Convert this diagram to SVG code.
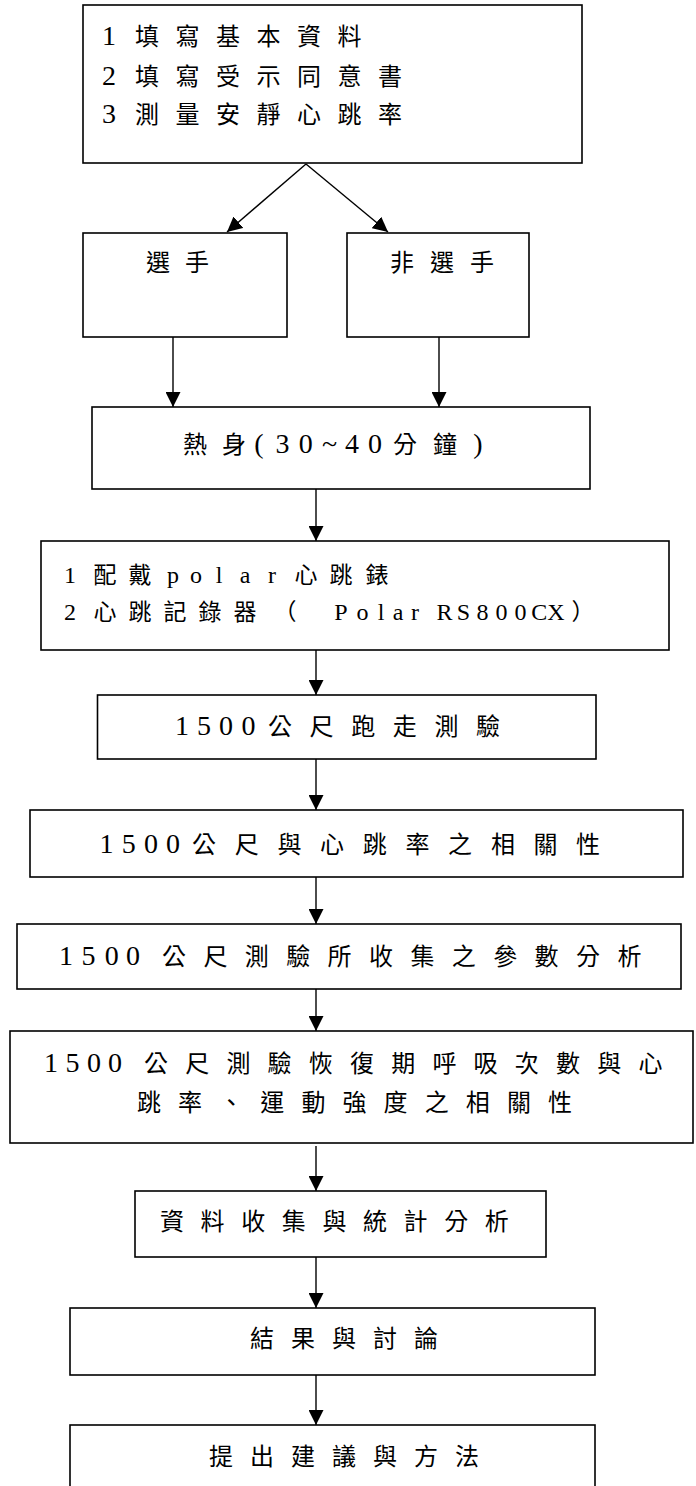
<svg xmlns="http://www.w3.org/2000/svg" width="696" height="1486" viewBox="0 0 696 1486">
<style>
.box{fill:#fff;stroke:#000;stroke-width:1.6}
.cn{stroke:#000;stroke-width:1.4;fill:none}
text{font-family:'Liberation Serif','Noto Sans CJK TC',serif;fill:#000}
.c{font-family:'Noto Sans CJK TC','Noto Sans CJK SC',sans-serif;font-size:24px;text-anchor:middle}
.c2{font-size:23px}
.l{font-family:'Liberation Serif',serif;font-size:28px;text-anchor:middle}
.s{font-size:24px}
</style>
<defs>
<marker id="ah" markerUnits="userSpaceOnUse" markerWidth="15" markerHeight="15" refX="15" refY="7.5" orient="auto">
<path d="M0,0 L15,7.5 L0,15 Z" fill="#000"/>
</marker>
</defs>
<rect width="696" height="1486" fill="#fff"/>

<g id="n1">
<rect class="box" x="83" y="5" width="499" height="158"/>
<text y="45"><tspan class="l" x="109 128">1 </tspan><tspan class="c" x="147 187.5 228 268.5 309 349.5">填寫基本資料</tspan></text>
<text y="85"><tspan class="l" x="109 128">2 </tspan><tspan class="c" x="147 187.5 228 268.5 309 349.5 390">填寫受示同意書</tspan></text>
<text y="123"><tspan class="l" x="109 128">3 </tspan><tspan class="c" x="147 187.5 228 268.5 309 349.5 390">測量安靜心跳率</tspan></text>
</g>

<g id="n2">
<rect class="box" x="83" y="233" width="204" height="104"/>
<text y="271"><tspan class="c" x="158 197">選手</tspan></text>
</g>

<g id="n3">
<rect class="box" x="347" y="233" width="182" height="104"/>
<text y="271"><tspan class="c" x="402 442 482">非選手</tspan></text>
</g>

<g id="n4">
<rect class="box" x="92" y="407" width="498" height="82"/>
<text y="453"><tspan class="c" x="195 234">熱身</tspan><tspan class="l" x="259 282.5 305.7 329.7 352 375">(30~40</tspan><tspan class="c" x="405 445">分鐘</tspan><tspan class="l" x="478">)</tspan></text>
</g>

<g id="n5">
<rect class="box" x="41" y="541" width="628" height="109"/>
<text y="583"><tspan class="l s" x="70 87">1 </tspan><tspan class="c c2" x="105 140">配戴</tspan><tspan class="l s" x="156 173 196 219 245 272 289"> polar </tspan><tspan class="c c2" x="306 341 377">心跳錶</tspan></text>
<text y="620"><tspan class="l s" x="70 87">2 </tspan><tspan class="c c2" x="105 140 175 210 245 285">心跳記錄器（</tspan><tspan class="l s" x="341 362.5 381 398 415 430 444.6 463.5 482.4 501.4 520.4 539.3 556">Polar RS800CX</tspan><tspan class="c c2" x="583">）</tspan></text>
</g>

<g id="n6">
<rect class="box" x="97.5" y="695" width="498.5" height="64"/>
<text y="735"><tspan class="l" x="182 204 226 248.6 264">1500 </tspan><tspan class="c" x="280 321.6 363.2 404.8 446.4 488">公尺跑走測驗</tspan></text>
</g>

<g id="n7">
<rect class="box" x="30" y="810" width="653" height="67"/>
<text y="853"><tspan class="l" x="106.5 128.7 151 173 189">1500 </tspan><tspan class="c" x="204 246.7 289.4 332 374.8 417.5 460 503 545.6 588">公尺與心跳率之相關性</tspan></text>
</g>

<g id="n8">
<rect class="box" x="17" y="924" width="664" height="65"/>
<text y="965"><tspan class="l" x="66 88.6 111.8 133 155">1500 </tspan><tspan class="c" x="174 215.4 256.8 298.2 339.6 381 422.4 463.8 505.2 546.6 588 629.4">公尺測驗所收集之參數分析</tspan></text>
</g>

<g id="n9">
<rect class="box" x="10" y="1031" width="683" height="112"/>
<text y="1072"><tspan class="l" x="51 72.5 94 115 137">1500 </tspan><tspan class="c" x="156 197.2 238.4 279.6 320.8 362 403.2 444.4 485.6 526.8 568 609.2 650.4">公尺測驗恢復期呼吸次數與心</tspan></text>
<text y="1111"><tspan class="c" x="149 190.1 231.2 272.3 313.4 354.5 395.6 436.7 477.8 518.9 560">跳率、運動強度之相關性</tspan></text>
</g>

<g id="n10">
<rect class="box" x="135" y="1191" width="411" height="66"/>
<text y="1230"><tspan class="c" x="172 212.6 253.2 293.8 334.4 375 415.6 456.2 496.8">資料收集與統計分析</tspan></text>
</g>

<g id="n11">
<rect class="box" x="70" y="1308" width="525" height="67"/>
<text y="1347"><tspan class="c" x="262 303 344 385 426">結果與討論</tspan></text>
</g>

<g id="n12">
<rect class="box" x="70" y="1425" width="525" height="80"/>
<text y="1465"><tspan class="c" x="221 262 303 344 385 426 467">提出建議與方法</tspan></text>
</g>

<g id="connectors">
<line class="cn" x1="306" y1="164" x2="227" y2="232" marker-end="url(#ah)"/>
<line class="cn" x1="306" y1="164" x2="388" y2="232" marker-end="url(#ah)"/>
<line class="cn" x1="173" y1="337" x2="173" y2="407" marker-end="url(#ah)"/>
<line class="cn" x1="439" y1="337" x2="439" y2="407" marker-end="url(#ah)"/>
<line class="cn" x1="316" y1="489" x2="316" y2="541" marker-end="url(#ah)"/>
<line class="cn" x1="316" y1="650" x2="316" y2="695" marker-end="url(#ah)"/>
<line class="cn" x1="316" y1="759" x2="316" y2="810" marker-end="url(#ah)"/>
<line class="cn" x1="316" y1="877" x2="316" y2="924" marker-end="url(#ah)"/>
<line class="cn" x1="316" y1="989" x2="316" y2="1031" marker-end="url(#ah)"/>
<line class="cn" x1="316" y1="1146" x2="316" y2="1191" marker-end="url(#ah)"/>
<line class="cn" x1="316" y1="1257" x2="316" y2="1308" marker-end="url(#ah)"/>
<line class="cn" x1="316" y1="1375" x2="316" y2="1425" marker-end="url(#ah)"/>
</g>
</svg>
